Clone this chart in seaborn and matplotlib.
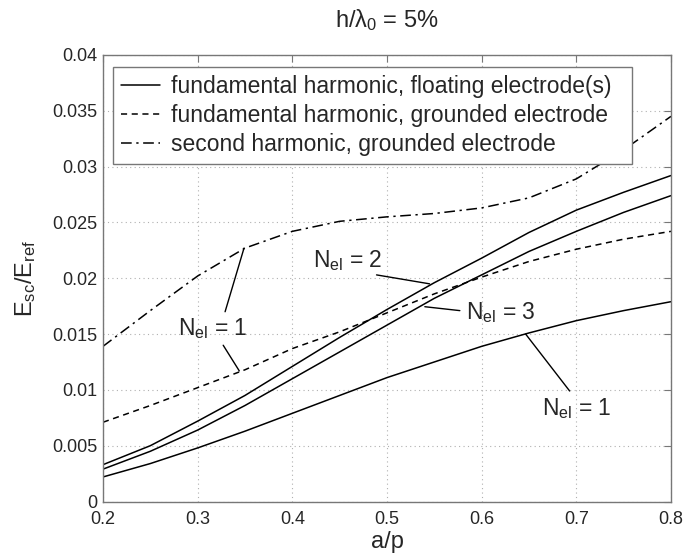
import matplotlib
matplotlib.use("Agg")
import matplotlib.pyplot as plt
import numpy as np
import pandas as pd
import seaborn as sns

a_p = [0.20, 0.25, 0.30, 0.35, 0.40, 0.45, 0.50, 0.55, 0.60, 0.65, 0.70, 0.75, 0.80]

# fundamental harmonic, floating electrode(s)
float_n2 = [0.0033, 0.0050, 0.0072, 0.0095, 0.0121, 0.0147, 0.0172, 0.0196, 0.0218, 0.0241, 0.0261, 0.0277, 0.0292]
float_n3 = [0.0029, 0.0045, 0.0064, 0.0086, 0.0110, 0.0134, 0.0158, 0.0182, 0.0203, 0.0224, 0.0242, 0.0259, 0.0274]
float_n1 = [0.0022, 0.0034, 0.0048, 0.0063, 0.0079, 0.0095, 0.0111, 0.0125, 0.0139, 0.0151, 0.0162, 0.0171, 0.0179]
# fundamental harmonic, grounded electrode
ground_fund = [0.0071, 0.0086, 0.0102, 0.0118, 0.0137, 0.0152, 0.0169, 0.0186, 0.0201, 0.0215, 0.0226, 0.0235, 0.0242]
# second harmonic, grounded electrode
ground_second = [0.0139, 0.0171, 0.0202, 0.0227, 0.0242, 0.0251, 0.0255, 0.0258, 0.0263, 0.0272, 0.0289, 0.0315, 0.0345]

legend_labels = ["fundamental harmonic, floating electrode(s)",
                 "fundamental harmonic, grounded electrode",
                 "second harmonic, grounded electrode"]

# (label, text position, pointer start, pointer end)
notes = [
    (r"N$_{\mathrm{el}}$ = 1", (0.316, 0.0149), [((0.329, 0.0170), (0.349, 0.0227)),
                                                 ((0.327, 0.0140), (0.344, 0.0117))]),
    (r"N$_{\mathrm{el}}$ = 2", (0.459, 0.0210), [((0.489, 0.0203), (0.545, 0.0195))]),
    (r"N$_{\mathrm{el}}$ = 3", (0.620, 0.0163), [((0.577, 0.0171), (0.540, 0.01745))]),
    (r"N$_{\mathrm{el}}$ = 1", (0.700, 0.00775), [((0.693, 0.0099), (0.6465, 0.0150))]),
]

sns.set_style("white")
plt.rcParams["font.family"] = ["Liberation Sans", "DejaVu Sans"]
plt.rcParams["mathtext.fontset"] = "custom"
plt.rcParams["mathtext.rm"] = "Liberation Sans"
plt.rcParams["mathtext.it"] = "Liberation Sans"

fig = plt.figure(figsize=(7, 5.57), dpi=100)
ax = fig.add_axes([0.1471, 0.0996, 0.8114, 0.8017])

sns.lineplot(x=a_p, y=float_n2, ax=ax, color="black", lw=1.1, label=legend_labels[0])
sns.lineplot(x=a_p, y=float_n3, ax=ax, color="black", lw=1.1, legend=False)
sns.lineplot(x=a_p, y=float_n1, ax=ax, color="black", lw=1.1, legend=False)
sns.lineplot(x=a_p, y=ground_fund, ax=ax, color="black", lw=1.1, dashes=False,
             linestyle=(0, (4, 3)), label=legend_labels[1])
sns.lineplot(x=a_p, y=ground_second, ax=ax, color="black", lw=1.1,
             linestyle=(0, (7, 3, 1.5, 3)), label=legend_labels[2])

for text, pos, pointers in notes:
    ax.text(pos[0], pos[1], text, ha="center", va="baseline", fontsize=16.5)
    for (x0, y0), (x1, y1) in pointers:
        ax.plot([x0, x1], [y0, y1], color="black", lw=1.0)

ax.set_xlim(0.2, 0.8)
ax.set_ylim(0, 0.04)
ax.set_xticks(np.arange(0.2, 0.81, 0.1))
ax.set_yticks(np.arange(0, 0.0401, 0.005))
ax.set_xticklabels(["0.2", "0.3", "0.4", "0.5", "0.6", "0.7", "0.8"])
ax.set_yticklabels(["0", "0.005", "0.01", "0.015", "0.02", "0.025", "0.03", "0.035", "0.04"])
ax.tick_params(direction="in", length=5, width=0.8, color="#777777", labelsize=13,
               top=True, right=True, pad=4)
ax.tick_params(axis="x", pad=7)
ax.grid(True, linestyle=(0, (1, 3)), color="#b0b0b0", lw=0.8)
for s in ax.spines.values():
    s.set_color("#777777")
    s.set_linewidth(1.0)

ax.set_xlabel("a/p", fontsize=17, labelpad=2)
ax.set_ylabel(r"E$_{\mathrm{sc}}$/E$_{\mathrm{ref}}$", fontsize=17, labelpad=10)
ax.set_title(r"h/$\lambda_0$ = 5%", fontsize=17, pad=20)

# legend frame spans a fixed box like the MATLAB original
leg = ax.legend(loc="upper left", bbox_to_anchor=(0.0176, 0.769, 0.914, 0.205), mode="expand",
                fontsize=16.5, frameon=True, fancybox=False, framealpha=1, edgecolor="#777777",
                handlelength=1.7, handletextpad=0.5, borderpad=0.35, labelspacing=0.28,
                borderaxespad=0)
leg.get_frame().set_linewidth(1.0)

fig.savefig("out.png", dpi=100)
